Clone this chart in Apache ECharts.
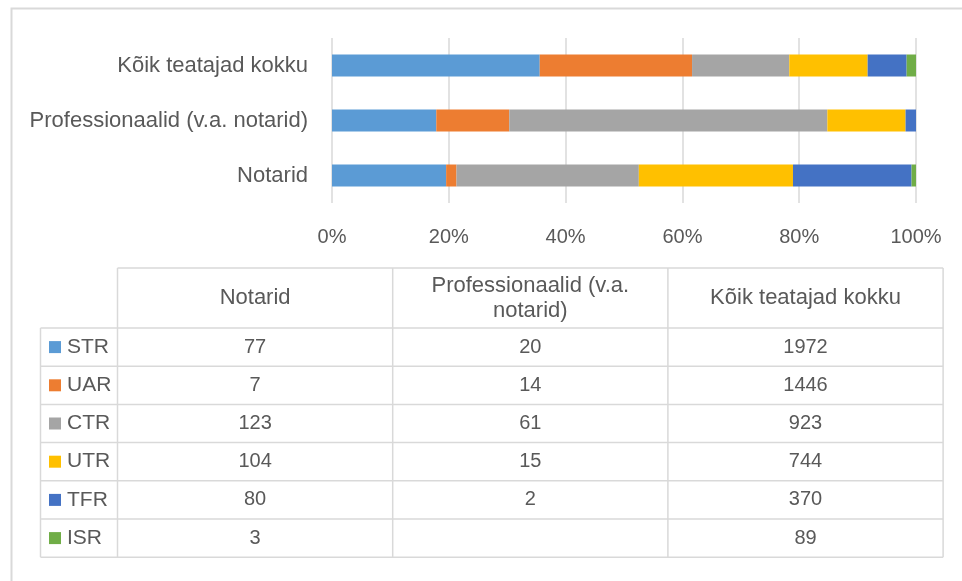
<!DOCTYPE html>
<html>
<head>
<meta charset="utf-8">
<script src="https://cdn.jsdelivr.net/npm/echarts@6/dist/echarts.min.js"></script>
<style>
  html, body { margin: 0; padding: 0; background: #fff; }
  #container { width: 962px; height: 581px; }
</style>
</head>
<body>
<div id="container"></div>
<script>
// kategooriad (alt üles, nagu teljel)
var categories = ['Notarid', 'Professionaalid (v.a. notarid)', 'Kõik teatajad kokku'];
// tabeli päised (vasakult paremale)
var tableHeads = ['Notarid', 'Professionaalid (v.a.\nnotarid)', 'Kõik teatajad kokku'];
var seriesNames = ['STR', 'UAR', 'CTR', 'UTR', 'TFR', 'ISR'];
var colors = ['#5b9bd5', '#ed7d31', '#a5a5a5', '#ffc000', '#4472c4', '#70ad47'];
// väärtused: Notarid, Professionaalid, Kõik
var STR = [77, 20, 1972];
var UAR = [7, 14, 1446];
var CTR = [123, 61, 923];
var UTR = [104, 15, 744];
var TFR = [80, 2, 370];
var ISR = [3, null, 89];

var values = [STR, UAR, CTR, UTR, TFR, ISR];
var FONT = '"Liberation Sans", Arial, sans-serif';
var GREY = '#595959';
var LINE = '#d9d9d9';

window.onload = function () {
  var chart = echarts.init(document.getElementById('container'));

  // summad iga kategooria kohta -> 100% tulp
  var totals = categories.map(function (c, i) {
    var s = 0;
    values.forEach(function (v) { s += v[i] || 0; });
    return s;
  });

  var series = seriesNames.map(function (name, k) {
    return {
      name: name,
      type: 'bar',
      stack: 'kokku',
      barWidth: 22,
      itemStyle: { color: colors[k] },
      data: values[k].map(function (v, i) { return v == null ? 0 : v / totals[i]; })
    };
  });

  // tabel alla
  var g = [];
  var tLeft = 40.5, keyRight = 117.5, colW = 275.2, hTop = 268, hBot = 328, rowH = 38.2;
  var tRight = keyRight + colW * 3;
  var tBot = hBot + rowH * seriesNames.length;

  // välimine raam (ainult ülemine ja vasak serv nähtav)
  g.push({ type: 'polyline', shape: { points: [[11.5, 600], [11.5, 8.5], [980, 8.5]] },
    style: { stroke: LINE, lineWidth: 2, fill: null } });

  g.push({ type: 'line', shape: { x1: keyRight, y1: hTop, x2: tRight, y2: hTop }, style: { stroke: LINE, lineWidth: 1.5 } });
  for (var r = 0; r <= seriesNames.length; r++) {
    var y = hBot + rowH * r;
    g.push({ type: 'line', shape: { x1: tLeft, y1: y, x2: tRight, y2: y }, style: { stroke: LINE, lineWidth: 1.5 } });
  }
  g.push({ type: 'line', shape: { x1: tLeft, y1: hBot, x2: tLeft, y2: tBot }, style: { stroke: LINE, lineWidth: 1.5 } });
  for (var c = 0; c <= 3; c++) {
    var x = keyRight + colW * c;
    g.push({ type: 'line', shape: { x1: x, y1: hTop, x2: x, y2: tBot }, style: { stroke: LINE, lineWidth: 1.5 } });
  }

  tableHeads.forEach(function (h, j) {
    g.push({ type: 'text', x: keyRight + colW * (j + 0.5), y: (hTop + hBot) / 2,
      style: { text: h, font: '22px ' + FONT, fill: GREY, align: 'center', verticalAlign: 'middle', lineHeight: 25 } });
  });

  seriesNames.forEach(function (name, k) {
    var cy = hBot + rowH * (k + 0.5);
    g.push({ type: 'rect', shape: { x: 49, y: cy - 6, width: 12, height: 12 }, style: { fill: colors[k] } });
    g.push({ type: 'text', x: 67, y: cy, style: { text: name, font: '21px ' + FONT, fill: GREY, align: 'left', verticalAlign: 'middle' } });
    values[k].forEach(function (v, j) {
      if (v == null) return;
      g.push({ type: 'text', x: keyRight + colW * (j + 0.5), y: cy,
        style: { text: String(v), font: '20px ' + FONT, fill: GREY, align: 'center', verticalAlign: 'middle' } });
    });
  });

  chart.setOption({
    animation: false,
    grid: { left: 332, right: 46, top: 38, bottom: 378 },
    xAxis: {
      type: 'value',
      min: 0, max: 1, interval: 0.2,
      axisLine: { show: false },
      axisTick: { show: false },
      splitLine: { show: true, lineStyle: { color: LINE, width: 1.5 } },
      axisLabel: {
        margin: 24, color: GREY, fontSize: 20, fontFamily: FONT,
        formatter: function (v) { return Math.round(v * 100) + '%'; }
      }
    },
    yAxis: {
      type: 'category',
      data: categories,
      axisLine: { show: false },
      axisTick: { show: false },
      axisLabel: { margin: 24, color: GREY, fontSize: 22, fontFamily: FONT }
    },
    series: series,
    graphic: g
  });
};
</script>
</body>
</html>
